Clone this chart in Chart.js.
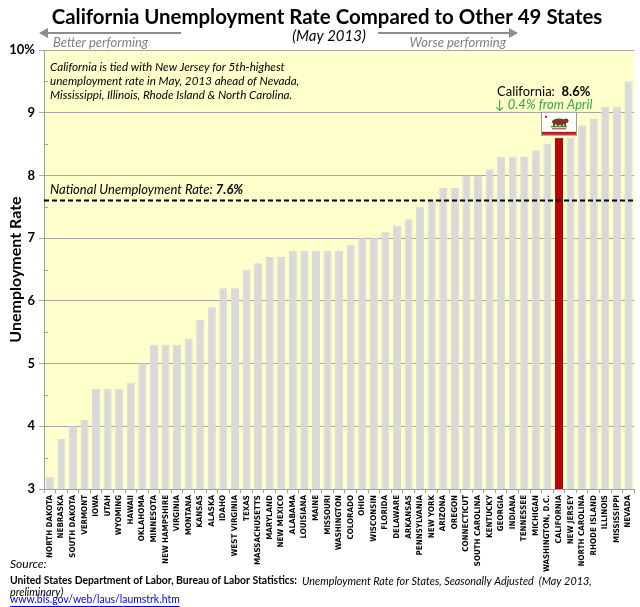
<!DOCTYPE html>
<html>
<head>
<meta charset="utf-8">
<title>California Unemployment Rate</title>
<script src="https://cdn.jsdelivr.net/npm/chart.js@4.4.0/dist/chart.umd.min.js"></script>
<style>
  html, body { margin: 0; padding: 0; background: #fff; }
  #wrap { position: relative; width: 640px; height: 607px; }
</style>
</head>
<body>
<div id="wrap"><canvas id="myChart" width="640" height="607"></canvas></div>
<script>
// data (May 2013)
var states = ["NORTH DAKOTA","NEBRASKA","SOUTH DAKOTA","VERMONT","IOWA","UTAH","WYOMING","HAWAII",
  "OKLAHOMA","MINNESOTA","NEW HAMPSHIRE","VIRGINIA","MONTANA","KANSAS","ALASKA","IDAHO",
  "WEST VIRGINIA","TEXAS","MASSACHUSETTS","MARYLAND","NEW MEXICO","ALABAMA","LOUISIANA","MAINE",
  "MISSOURI","WASHINGTON","COLORADO","OHIO","WISCONSIN","FLORIDA","DELAWARE","ARKANSAS",
  "PENNSYLVANIA","NEW YORK","ARIZONA","OREGON","CONNECTICUT","SOUTH CAROLINA","KENTUCKY","GEORGIA",
  "INDIANA","TENNESSEE","MICHIGAN","WASHINGTON, D.C.","CALIFORNIA","NEW JERSEY","NORTH CAROLINA",
  "RHODE ISLAND","ILLINOIS","MISSISSIPPI","NEVADA"];
var rates = [3.2,3.8,4.0,4.1,4.6,4.6,4.6,4.7,
  5.0,5.3,5.3,5.3,5.4,5.7,5.9,6.2,
  6.2,6.5,6.6,6.7,6.7,6.8,6.8,6.8,
  6.8,6.8,6.9,7.0,7.0,7.1,7.2,7.3,
  7.5,7.6,7.8,7.8,8.0,8.0,8.1,8.3,
  8.3,8.3,8.4,8.5,8.6,8.6,8.8,
  8.9,9.1,9.1,9.5];
var nationalRate = 7.6;
var highlight = "CALIFORNIA";
var yTicks = [3,4,5,6,7,8,9,10];

var FONT = "Lato, 'Liberation Sans', sans-serif";
var TICKFONT = "'Liberation Sans Narrow', 'DejaVu Sans Condensed', 'DejaVu Sans', sans-serif";

var barColors = states.map(function(s){ return s == highlight ? "#C00000" : "#D9D9D9"; });
var borderColors = states.map(function(s){ return s == highlight ? "#7F1010" : "#D9D9D9"; });

function fitFont(ctx, style, text, width, family){
  // pick a font size so the text spans the given width
  family = family || FONT;
  ctx.font = style + " 20px " + family;
  var w = ctx.measureText(text).width;
  var size = 20 * width / w;
  return style + " " + size.toFixed(2) + "px " + family;
}

// size the rotated state labels so "NORTH DAKOTA" is about 63px long
var measureCtx = document.createElement("canvas").getContext("2d");
measureCtx.font = "bold 20px " + TICKFONT;
var tickSize = 20 * 63 / measureCtx.measureText(states[0]).width;

function arrow(ctx, x1, x2, y, dir){
  ctx.save();
  ctx.strokeStyle = "#8C8C8C";
  ctx.fillStyle = "#8C8C8C";
  ctx.lineWidth = 2;
  ctx.beginPath();
  ctx.moveTo(x1, y); ctx.lineTo(x2, y);
  ctx.stroke();
  var tip = dir < 0 ? x1 - 6 : x2 + 6;
  ctx.beginPath();
  ctx.moveTo(tip, y);
  ctx.lineTo(tip - dir*9, y - 5);
  ctx.lineTo(tip - dir*9, y + 5);
  ctx.closePath();
  ctx.fill();
  ctx.restore();
}

function drawFlag(ctx, cx, bottom){
  var w = 34, h = 22;
  var x = cx - w/2, y = bottom - h;
  ctx.save();
  ctx.fillStyle = "#999";
  ctx.fillRect(x - 1, y - 1, w + 2, h + 2);
  ctx.fillStyle = "#fff";
  ctx.fillRect(x, y, w, h);
  ctx.fillStyle = "#B22222";
  ctx.fillRect(x, y + h - 3, w, 3);
  // star
  ctx.fillRect(x + 3, y + 3, 2, 2);
  // grass
  ctx.fillStyle = "#3C8C3C";
  ctx.fillRect(x + 9, y + 13, 16, 1.5);
  // bear
  ctx.fillStyle = "#7A3B1A";
  ctx.beginPath();
  ctx.ellipse(cx, y + 9, 7, 3.2, 0, 0, Math.PI*2);
  ctx.fill();
  ctx.beginPath();
  ctx.ellipse(cx + 7, y + 8, 2.6, 2.2, 0, 0, Math.PI*2);
  ctx.fill();
  ctx.fillRect(cx - 6, y + 10, 2, 3);
  ctx.fillRect(cx - 2, y + 10, 2, 3);
  ctx.fillRect(cx + 2, y + 10, 2, 3);
  ctx.fillRect(cx + 5, y + 10, 2, 3);
  // banner text line
  ctx.fillStyle = "#7A3B1A";
  ctx.fillRect(x + 10, y + 15.5, 14, 1);
  ctx.restore();
}

var decorPlugin = {
  id: "decor",
  beforeDraw: function(chart){
    var ctx = chart.ctx, a = chart.chartArea;
    ctx.save();
    ctx.fillStyle = "#fff";
    ctx.fillRect(0, 0, chart.width, chart.height);
    ctx.fillStyle = "#FFFFCC";
    ctx.fillRect(a.left, a.top, a.right - a.left, a.bottom - a.top);
    ctx.restore();
  },
  afterDatasetsDraw: function(chart){
    var ctx = chart.ctx, a = chart.chartArea;
    var y = chart.scales.y;
    // half-step minor ticks
    ctx.save();
    ctx.strokeStyle = "#A0A0A0";
    ctx.lineWidth = 1;
    for (var v = 3.5; v < 10; v += 1){
      var py = Math.round(y.getPixelForValue(v)) + 0.5;
      ctx.beginPath(); ctx.moveTo(a.left, py); ctx.lineTo(a.left + 4, py); ctx.stroke();
    }
    // national rate line
    var ny = y.getPixelForValue(nationalRate);
    ctx.strokeStyle = "#000";
    ctx.lineWidth = 2;
    ctx.setLineDash([5, 3]);
    ctx.beginPath(); ctx.moveTo(a.left, ny); ctx.lineTo(a.right, ny); ctx.stroke();
    ctx.setLineDash([]);
    ctx.restore();

    // flag above highlighted bar
    var idx = states.indexOf(highlight);
    var bar = chart.getDatasetMeta(0).data[idx];
    drawFlag(ctx, bar.x, bar.y - 3);
  },
  afterDraw: function(chart){
    var ctx = chart.ctx, a = chart.chartArea;
    var y = chart.scales.y;
    ctx.save();
    ctx.textBaseline = "middle";

    // title
    var t = "California Unemployment Rate Compared to Other 49 States";
    ctx.font = fitFont(ctx, "bold", t, 551);
    ctx.fillStyle = "#000";
    ctx.textAlign = "center";
    ctx.fillText(t, 327, 17);
    ctx.font = "italic 15px " + FONT;
    ctx.fillText("(May 2013)", 329, 36);

    // direction arrows
    arrow(ctx, 45, 181, 33, -1);
    arrow(ctx, 378, 512, 33, 1);
    ctx.fillStyle = "#7F7F7F";
    ctx.font = "italic 13px " + FONT;
    ctx.textAlign = "left";
    ctx.fillText("Better performing", 53, 43);
    ctx.textAlign = "right";
    ctx.fillText("Worse performing", 506, 43);

    // note
    ctx.fillStyle = "#000";
    ctx.textAlign = "left";
    var note = ["California is tied with New Jersey for 5th-highest",
      "unemployment rate in May, 2013 ahead of Nevada,",
      "Mississippi, Illinois, Rhode Island & North Carolina."];
    ctx.font = fitFont(ctx, "italic", note[0], 235);
    note.forEach(function(l, i){ ctx.fillText(l, 50, 67 + i*14); });

    // national label
    var ny = y.getPixelForValue(nationalRate);
    ctx.font = "italic 13px " + FONT;
    var lbl = "National Unemployment Rate: ";
    ctx.fillText(lbl, 50, ny - 11);
    var lw = ctx.measureText(lbl).width;
    ctx.font = "italic bold 13px " + FONT;
    ctx.fillText(nationalRate.toFixed(1) + "%", 50 + lw, ny - 11);

    // california callout
    var idx = states.indexOf(highlight);
    ctx.font = "13px " + FONT;
    var c1 = "California:  ";
    ctx.fillText(c1, 497, 92);
    var cw = ctx.measureText(c1).width;
    ctx.font = "bold 13px " + FONT;
    ctx.fillText(rates[idx].toFixed(1) + "%", 497 + cw, 92);
    ctx.fillStyle = "#2EA84A";
    ctx.font = "italic 13px " + FONT;
    ctx.fillText("\u2193 0.4% from April", 495, 105);

    // source
    ctx.fillStyle = "#000";
    ctx.font = "italic 12px " + FONT;
    ctx.fillText("Source:", 10, 564);
    var s1 = "United States Department of Labor, Bureau of Labor Statistics:";
    ctx.font = fitFont(ctx, "bold", s1, 287);
    ctx.fillText(s1, 10, 581);
    ctx.font = fitFont(ctx, "italic", "Unemployment Rate for States, Seasonally Adjusted  (May 2013,", 290);
    ctx.fillText("Unemployment Rate for States, Seasonally Adjusted  (May 2013,", 302, 581);
    ctx.fillText("preliminary)", 10, 592);
    ctx.fillStyle = "#0000EE";
    var link = "www.bls.gov/web/laus/laumstrk.htm";
    ctx.font = fitFont(ctx, "normal", link, 170);
    ctx.fillText(link, 10, 600);
    var lkw = ctx.measureText(link).width;
    ctx.strokeStyle = "#0000EE";
    ctx.lineWidth = 1;
    ctx.beginPath(); ctx.moveTo(10, 606.5); ctx.lineTo(10 + lkw, 606.5); ctx.stroke();
    ctx.restore();
  }
};

var ctx = document.getElementById("myChart").getContext("2d");
new Chart(ctx, {
  type: "bar",
  data: {
    labels: states,
    datasets: [{
      data: rates,
      backgroundColor: barColors,
      borderColor: borderColors,
      borderWidth: 1,
      categoryPercentage: 1.0,
      barPercentage: 0.7
    }]
  },
  options: {
    responsive: false,
    animation: false,
    devicePixelRatio: 1,
    layout: { padding: { top: 50, left: 0, right: 5, bottom: 18 } },
    plugins: { legend: { display: false }, tooltip: { enabled: false } },
    scales: {
      x: {
        afterFit: function(s){ s.height = 100; },
        grid: { display: true, drawOnChartArea: false, drawTicks: true, tickLength: 4, offset: true, color: "#A0A0A0" },
        border: { color: "#A0A0A0" },
        ticks: {
          autoSkip: false, minRotation: 90, maxRotation: 90, padding: 2,
          color: "#000", font: { family: TICKFONT, size: tickSize, weight: "bold" }
        }
      },
      y: {
        min: 3, max: 10,
        afterFit: function(s){ s.width = 44; },
        afterBuildTicks: function(s){ s.ticks = yTicks.map(function(v){ return { value: v }; }); },
        grid: { color: "#A6A6A6", tickLength: 5 },
        border: { color: "#A0A0A0" },
        ticks: {
          padding: 4, color: "#000",
          font: { family: FONT, size: 13, weight: "bold" },
          callback: function(v){ return v == 10 ? "10%" : v; }
        },
        title: {
          display: true, text: "Unemployment Rate", color: "#000",
          font: { family: FONT, size: 16, weight: "bold" }, padding: { top: 6, bottom: 0 }
        }
      }
    }
  },
  plugins: [decorPlugin]
});
</script>
</body>
</html>
